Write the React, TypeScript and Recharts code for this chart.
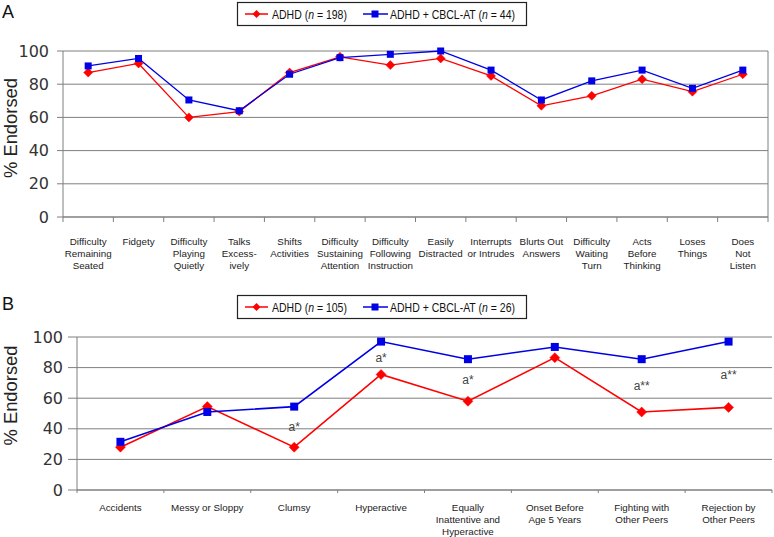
import React from 'react';
import { LineChart, Line, XAxis, YAxis, CartesianGrid, ReferenceLine, LabelList, Label } from 'recharts';

const categoriesA = [
  'Difficulty\nRemaining\nSeated', 'Fidgety', 'Difficulty\nPlaying\nQuietly', 'Talks\nExcess-\nively',
  'Shifts\nActivities', 'Difficulty\nSustaining\nAttention', 'Difficulty\nFollowing\nInstruction',
  'Easily\nDistracted', 'Interrupts\nor Intrudes', 'Blurts Out\nAnswers', 'Difficulty\nWaiting\nTurn',
  'Acts\nBefore\nThinking', 'Loses\nThings', 'Does\nNot\nListen',
];
const adhdA = [87, 92.5, 60, 63.5, 87, 96.5, 91.5, 95.5, 85, 67, 73, 83, 75.5, 86];
const cbclA = [91, 95.5, 70.5, 64, 86, 96, 98, 100, 88.5, 70.5, 82, 88.5, 77.5, 88.5];

const categoriesB = [
  'Accidents', 'Messy or Sloppy', 'Clumsy', 'Hyperactive', 'Equally\nInattentive and\nHyperactive',
  'Onset Before\nAge 5 Years', 'Fighting with\nOther Peers', 'Rejection by\nOther Peers',
];
const adhdB = [28, 54.5, 28, 75.5, 58, 86.5, 51, 54];
const cbclB = [31.5, 51, 54.5, 97, 85.5, 93.5, 85.5, 97];
const sigB = ['', '', 'a*', 'a*', 'a*', '', 'a**', 'a**'];

const yTicks = [0, 20, 40, 60, 80, 100];
const seriesNames = ['ADHD', 'ADHD + CBCL-AT'];
const nA = [198, 44];
const nB = [105, 26];

const RED = '#ff0000';
const BLUE = '#0000e6';
const GRID = '#7f7f7f';
const LIB = "'Liberation Sans', Arial, sans-serif";
const SANS = "'DejaVu Sans', sans-serif";

const dataA = categoriesA.map((c, i) => ({ x: i + 0.5, name: c, adhd: adhdA[i], cbcl: cbclA[i] }));
const dataB = categoriesB.map((c, i) => ({ x: i + 0.5, name: c, adhd: adhdB[i], cbcl: cbclB[i], sig: sigB[i] || undefined }));

const edgeTicks = (n: number) => {
  const t: number[] = [];
  for (let i = 0; i <= 2 * n; i++) t.push(i / 2);
  return t;
};

const makeTick = (labels: string[], tickLen: number, first: number, lh: number) => (props: any) => {
  const { x, y, payload } = props;
  const v = payload.value;
  if (Number.isInteger(v)) {
    return <line x1={x} x2={x} y1={y} y2={y + tickLen} stroke={GRID} strokeWidth={1} />;
  }
  const lines = (labels[Math.floor(v)] || '').split('\n');
  return (
    <g>
      {lines.map((l, i) => (
        <text key={i} x={x} y={y + first + i * lh} textAnchor="middle" fontSize={9.8} fontFamily={LIB} fill="#222">
          {l}
        </text>
      ))}
    </g>
  );
};

const Diamond = (size: number) => (p: any) => {
  const { cx, cy, index } = p;
  if (cx == null || cy == null) return <g key={index} />;
  const h = size / 2;
  return <path key={index} d={`M${cx},${cy - h}L${cx + h},${cy}L${cx},${cy + h}L${cx - h},${cy}Z`} fill={RED} stroke={RED} strokeWidth={0.5} />;
};
const Square = (size: number) => (p: any) => {
  const { cx, cy, index } = p;
  if (cx == null || cy == null) return <g key={index} />;
  return <rect key={index} x={cx - size / 2} y={cy - size / 2} width={size} height={size} fill={BLUE} />;
};

const yTitle = (dy: number) => (p: any) => {
  const vb = p.viewBox || {};
  const cx = 16.5;
  const cy = vb.y + vb.height / 2 + dy;
  return (
    <text x={cx} y={cy} transform={`rotate(-90, ${cx}, ${cy})`} textAnchor="middle" fontSize={18} fontFamily={LIB}
      fill="#222" textLength={100} lengthAdjust="spacingAndGlyphs">
      % Endorsed
    </text>
  );
};

const LegendBox = ({ top, counts }: { top: number; counts: number[] }) => (
  <svg style={{ position: 'absolute', left: 0, top, overflow: 'visible' }} width={774} height={26}>
    <rect x={237.5} y={0.5} width={289} height={23} fill="#fff" stroke="#222" strokeWidth={1.2} />
    <line x1={245} x2={268} y1={12} y2={12} stroke={RED} strokeWidth={1.5} />
    <path d="M256.5,8L260.5,12L256.5,16L252.5,12Z" fill={RED} />
    <g transform="translate(272,16.5) scale(0.84,1)">
      <text x={0} y={0} fontSize={12.5} fontFamily={LIB} fill="#111">
        {seriesNames[0]} (<tspan fontStyle="italic">n</tspan> = {counts[0]})
      </text>
    </g>
    <line x1={363} x2={388} y1={12} y2={12} stroke={BLUE} strokeWidth={1.5} />
    <rect x={371.5} y={8.5} width={7} height={7} fill={BLUE} />
    <g transform="translate(390,16.5) scale(0.84,1)">
      <text x={0} y={0} fontSize={12.5} fontFamily={LIB} fill="#111">
        {seriesNames[1]} (<tspan fontStyle="italic">n</tspan> = {counts[1]})
      </text>
    </g>
  </svg>
);

const PanelLetter = ({ top, text }: { top: number; text: string }) => (
  <div style={{ position: 'absolute', left: 2, top, fontFamily: LIB, fontSize: 18, color: '#111', lineHeight: '18px' }}>{text}</div>
);

export default function App() {
  return (
    <div style={{ position: 'absolute', left: 0, top: 0, width: 774, height: 537, background: '#fff', overflow: 'hidden' }}>
      <div style={{ position: 'absolute', left: 0, top: 0 }}>
        <LineChart width={774} height={290} data={dataA} margin={{ top: 51, right: 6, left: 0, bottom: 13 }}>
          <CartesianGrid vertical={false} stroke={GRID} strokeWidth={1} />
          <XAxis
            dataKey="x" type="number" domain={[0, categoriesA.length]} ticks={edgeTicks(categoriesA.length)}
            interval={0} tickSize={0} tickMargin={0} height={60} axisLine={{ stroke: GRID }} tickLine={false}
            tick={makeTick(categoriesA, 5, 28, 11.8)} allowDecimals
          />
          <YAxis
            domain={[0, 100]} ticks={yTicks} width={63} tickSize={6} tickMargin={8} interval={0}
            axisLine={{ stroke: GRID }} tickLine={{ stroke: GRID }}
            tick={{ fontSize: 16, fontFamily: SANS, fill: '#333' }}
          >
            <Label content={yTitle(-6)} />
          </YAxis>
          <ReferenceLine x={categoriesA.length} stroke={GRID} />
          <Line dataKey="adhd" stroke={RED} strokeWidth={1.3} dot={Diamond(9)} activeDot={false} isAnimationActive={false} />
          <Line dataKey="cbcl" stroke={BLUE} strokeWidth={1.3} dot={Square(7)} activeDot={false} isAnimationActive={false} />
        </LineChart>
      </div>
      <div style={{ position: 'absolute', left: 0, top: 280 }}>
        <LineChart width={774} height={257} data={dataB} margin={{ top: 57, right: 2, left: 0, bottom: 7 }}>
          <CartesianGrid vertical={false} stroke={GRID} strokeWidth={1} />
          <XAxis
            dataKey="x" type="number" domain={[0, categoriesB.length]} ticks={edgeTicks(categoriesB.length)}
            interval={0} tickSize={0} tickMargin={0} height={40} axisLine={{ stroke: GRID }} tickLine={false}
            tick={makeTick(categoriesB, 3, 21, 11.8)} allowDecimals
          />
          <YAxis
            domain={[0, 100]} ticks={yTicks} width={77} tickSize={9} tickMargin={5} interval={0}
            axisLine={{ stroke: GRID }} tickLine={{ stroke: GRID }}
            tick={{ fontSize: 16, fontFamily: SANS, fill: '#333' }}
          >
            <Label content={yTitle(-18)} />
          </YAxis>
          <Line dataKey="adhd" stroke={RED} strokeWidth={1.6} dot={Diamond(10)} activeDot={false} isAnimationActive={false} />
          <Line dataKey="cbcl" stroke={BLUE} strokeWidth={1.6} dot={Square(8)} activeDot={false} isAnimationActive={false} />
          <Line
            dataKey={(d: any) => (d.adhd + d.cbcl) / 2} stroke="none" dot={false} activeDot={false}
            isAnimationActive={false} legendType="none"
          >
            <LabelList dataKey="sig" position="center" fontSize={12} fontFamily={LIB} fill="#444" />
          </Line>
        </LineChart>
      </div>
      <LegendBox top={2} counts={nA} />
      <LegendBox top={295} counts={nB} />
      <PanelLetter top={3} text="A" />
      <PanelLetter top={295} text="B" />
    </div>
  );
}
